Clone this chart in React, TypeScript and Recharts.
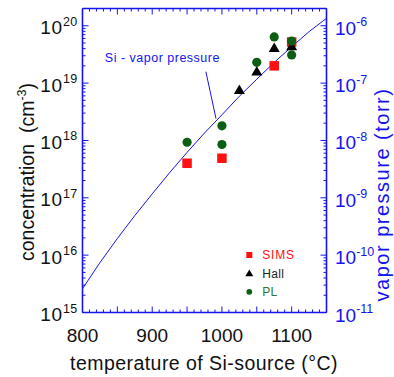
import React from 'react';
import { ComposedChart, Line, Scatter, XAxis, YAxis, Legend, ReferenceLine, ReferenceDot } from 'recharts';

// ---- data ----
const curveTemps = [800, 825, 850, 875, 900, 925, 950, 975, 1000, 1025, 1050, 1075, 1100, 1125, 1150];
const vaporPressure = [2.6e-11, 7.4e-11, 1.95e-10, 4.9e-10, 1.17e-9, 2.75e-9, 6.2e-9, 1.35e-8, 2.8e-8, 5.9e-8, 1.17e-7, 2.3e-7, 4.3e-7, 7.9e-7, 1.35e-6];

const simsTemps = [950, 1000, 1075, 1100];
const simsConc = [4.0e17, 4.9e17, 2.0e19, 5.2e19];

const hallTemps = [1025, 1050, 1075, 1100];
const hallConc = [7.6e18, 1.6e19, 4.1e19, 4.4e19];

const plTemps = [950, 1000, 1000, 1050, 1075, 1100, 1100];
const plConc = [9.3e17, 1.8e18, 8.5e17, 2.3e19, 6.4e19, 5.4e19, 3.1e19];

const xTicks = [800, 810, 820, 830, 840, 850, 860, 870, 880, 890, 900, 910, 920, 930, 940, 950, 960, 970, 980, 990, 1000,
  1010, 1020, 1030, 1040, 1050, 1060, 1070, 1080, 1090, 1100, 1110, 1120, 1130, 1140, 1150];
const xLabelTicks = [800, 900, 1000, 1100];
const leftDecades = [15, 16, 17, 18, 19, 20];
const rightDecades = [-11, -10, -9, -8, -7, -6];
const mantissas = [1, 2, 3, 4, 5, 6, 7, 8, 9];

const LEFT_DOMAIN: [number, number] = [1e15, 2e20];
const RIGHT_DOMAIN: [number, number] = [1e-11, 2e-6];

const buildLogTicks = (decades: number[], max: number) =>
  decades.flatMap((d) => mantissas.map((m) => m * Math.pow(10, d))).filter((v) => v <= max * 1.0001);

const leftTicks = buildLogTicks(leftDecades, LEFT_DOMAIN[1]);
const rightTicks = buildLogTicks(rightDecades, RIGHT_DOMAIN[1]);

const curveData = curveTemps.map((t, i) => ({ t, p: vaporPressure[i] }));
const simsData = simsTemps.map((t, i) => ({ t, c: simsConc[i] }));
const hallData = hallTemps.map((t, i) => ({ t, c: hallConc[i] }));
const plData = plTemps.map((t, i) => ({ t, c: plConc[i] }));

// ---- styles ----
const BLUE = '#1414f0';
const RED = '#ff1010';
const GREEN = '#0b5e14';
const FONT = '"Liberation Sans", Arial, sans-serif';

const expOf = (v: number) => Math.round(Math.log10(v));
const isDecade = (v: number) => Math.abs(v / Math.pow(10, expOf(v)) - 1) < 1e-6;

const LeftTick = (props: any) => {
  const { x, y, payload } = props;
  const v = payload.value;
  const major = isDecade(v);
  return (
    <g>
      <line x1={x} x2={x + (major ? 6 : 3)} y1={y} y2={y} stroke={BLUE} strokeWidth={1} />
      {major && (
        <text x={x - 5} y={y + 8.5} textAnchor="end" fill="#111" fontSize={19} fontFamily={FONT} letterSpacing={0.8}>
          <tspan>10</tspan>
          <tspan dy={-8.5} fontSize={12.5} letterSpacing={0.3}>{expOf(v)}</tspan>
        </text>
      )}
    </g>
  );
};

const RightTick = (props: any) => {
  const { x, y, payload } = props;
  const v = payload.value;
  const major = isDecade(v);
  return (
    <g>
      <line x1={x - (major ? 6 : 3)} x2={x} y1={y} y2={y} stroke={BLUE} strokeWidth={1} />
      {major && (
        <text x={x + 8.5} y={y + 9} textAnchor="start" fill={BLUE} fontSize={19} fontFamily={FONT}>
          <tspan>10</tspan>
          <tspan dy={-8.5} fontSize={12.5}>{String(expOf(v))}</tspan>
        </text>
      )}
    </g>
  );
};

const BottomTick = (props: any) => {
  const { x, y, payload } = props;
  const v = payload.value;
  const major = v % 50 === 0;
  return (
    <g>
      <line x1={x} x2={x} y1={y} y2={y - (major ? 6 : 3)} stroke={BLUE} strokeWidth={1} />
      {xLabelTicks.includes(v) && (
        <text x={x} y={y + 29} textAnchor="middle" fill="#111" fontSize={19} fontFamily={FONT}>
          {v}
        </text>
      )}
    </g>
  );
};

const TopTick = (props: any) => {
  const { x, y, payload } = props;
  const major = payload.value % 50 === 0;
  return <line x1={x} x2={x} y1={y} y2={y + (major ? 6 : 3)} stroke={BLUE} strokeWidth={1} />;
};

const SquareShape = (p: any) => <rect x={p.cx - 4.75} y={p.cy - 4.75} width={9.5} height={9.5} fill={RED} />;
const TriangleShape = (p: any) => (
  <polygon points={`${p.cx},${p.cy - 5.5} ${p.cx - 5.5},${p.cy + 4} ${p.cx + 5.5},${p.cy + 4}`} fill="#000" />
);
const CircleShape = (p: any) => <circle cx={p.cx} cy={p.cy} r={4.6} fill={GREEN} />;

const legendItems = [
  { name: 'SIMS', color: RED, text: RED },
  { name: 'Hall', color: '#000', text: '#222' },
  { name: 'PL', color: GREEN, text: '#2a7a2a' },
];

const LegendContent = () => (
  <svg width={80} height={60} style={{ display: 'block' }}>
    {legendItems.map((it, i) => {
      const cy = 10 + i * 18.4;
      const cx = 9.3;
      let marker;
      if (i === 0) marker = <rect x={cx - 3} y={cy - 3} width={6} height={6} fill={it.color} />;
      else if (i === 1)
        marker = <polygon points={`${cx},${cy - 3.8} ${cx - 4},${cy + 2.8} ${cx + 4},${cy + 2.8}`} fill={it.color} />;
      else marker = <circle cx={cx} cy={cy} r={2.9} fill={it.color} />;
      return (
        <g key={it.name}>
          {marker}
          <text x={22.3} y={cy + 4.2} fill={it.text} fontSize={12} fontFamily={FONT} letterSpacing={it.name === 'SIMS' ? 0.8 : 0.3}>
            {it.name}
          </text>
        </g>
      );
    })}
  </svg>
);

const leftTitle = (props: any) => {
  const vb = props.viewBox;
  const x = vb.x + vb.width - 48.5;
  const y = vb.y + vb.height / 2 + 11.5;
  return (
    <text x={x} y={y} transform={`rotate(-90 ${x} ${y})`} textAnchor="middle" fill="#111" fontSize={19.5} fontFamily={FONT}>
      <tspan>{'concentration\u00a0\u00a0(cm'}</tspan>
      <tspan dy={-8} fontSize={12.5}>-3</tspan>
      <tspan dy={8}>)</tspan>
    </text>
  );
};

const rightTitle = (props: any) => {
  const vb = props.viewBox;
  const x = vb.x + 62;
  const y = vb.y + vb.height / 2 + 34;
  return (
    <text x={x} y={y} transform={`rotate(-90 ${x} ${y})`} textAnchor="middle" fill={BLUE} fontSize={20} fontFamily={FONT} letterSpacing={1.5}>
      vapor pressure (torr)
    </text>
  );
};

const bottomTitle = (props: any) => {
  const vb = props.viewBox;
  const x = 204;
  const y = vb.y + 57;
  return (
    <text x={x} y={y} textAnchor="middle" fill="#111" fontSize={19.5} fontFamily={FONT} letterSpacing={0.45}>
      temperature of Si-source (°C)
    </text>
  );
};

export default function App() {
  return (
    <div style={{ position: 'absolute', left: 0, top: 0, fontFamily: FONT }}>
      <ComposedChart width={394} height={377} margin={{ top: 7.5, right: 66.5, bottom: 63.5, left: 81.5 }}>
        <XAxis
          xAxisId="bottom"
          dataKey="t"
          type="number"
          domain={[800, 1150]}
          allowDataOverflow
          ticks={xTicks}
          interval={0}
          height={1}
          tickSize={0}
          tickMargin={0}
          tickLine={false}
          axisLine={{ stroke: BLUE, strokeWidth: 1.6 }}
          tick={<BottomTick />}
          label={bottomTitle}
        />
        <XAxis
          xAxisId="top"
          orientation="top"
          dataKey="t"
          type="number"
          domain={[800, 1150]}
          allowDataOverflow
          ticks={xTicks}
          interval={0}
          height={1}
          tickSize={0}
          tickMargin={0}
          tickLine={false}
          axisLine={{ stroke: BLUE, strokeWidth: 1.6 }}
          tick={<TopTick />}
        />
        <YAxis
          yAxisId="left"
          type="number"
          scale="log"
          domain={LEFT_DOMAIN}
          allowDataOverflow
          ticks={leftTicks}
          interval={0}
          width={1}
          tickSize={0}
          tickMargin={0}
          tickLine={false}
          axisLine={{ stroke: BLUE, strokeWidth: 1.6 }}
          tick={<LeftTick />}
          label={leftTitle}
        />
        <YAxis
          yAxisId="right"
          orientation="right"
          type="number"
          scale="log"
          domain={RIGHT_DOMAIN}
          allowDataOverflow
          ticks={rightTicks}
          interval={0}
          width={1}
          tickSize={0}
          tickMargin={0}
          tickLine={false}
          axisLine={{ stroke: BLUE, strokeWidth: 1.6 }}
          tick={<RightTick />}
          label={rightTitle}
        />
        <Line
          xAxisId="bottom"
          yAxisId="right"
          data={curveData}
          dataKey="p"
          type="linear"
          stroke={BLUE}
          strokeWidth={1}
          dot={false}
          legendType="none"
          isAnimationActive={false}
        />
        <ReferenceLine
          xAxisId="bottom"
          yAxisId="left"
          segment={[{ x: 977, y: 1.58e19 }, { x: 991.5, y: 2.4e18 }]}
          stroke={BLUE}
          strokeWidth={1}
        />
        <ReferenceDot
          xAxisId="bottom"
          yAxisId="left"
          x={832}
          y={2.8e19}
          r={0}
          fill="none"
          stroke="none"
          label={{ value: 'Si - vapor pressure', position: 'right', offset: 0, fill: BLUE, fontSize: 12.5, fontFamily: FONT, letterSpacing: 0.5 }}
        />
        <Scatter name="SIMS" xAxisId="bottom" yAxisId="left" data={simsData} dataKey="c" shape={SquareShape} isAnimationActive={false} />
        <Scatter name="Hall" xAxisId="bottom" yAxisId="left" data={hallData} dataKey="c" shape={TriangleShape} isAnimationActive={false} />
        <Scatter name="PL" xAxisId="bottom" yAxisId="left" data={plData} dataKey="c" shape={CircleShape} isAnimationActive={false} />
        <Legend
          layout="vertical"
          align="center"
          verticalAlign="middle"
          wrapperStyle={{ left: 240, top: 245, width: 80, height: 60 }}
          content={<LegendContent />}
        />
      </ComposedChart>
    </div>
  );
}
